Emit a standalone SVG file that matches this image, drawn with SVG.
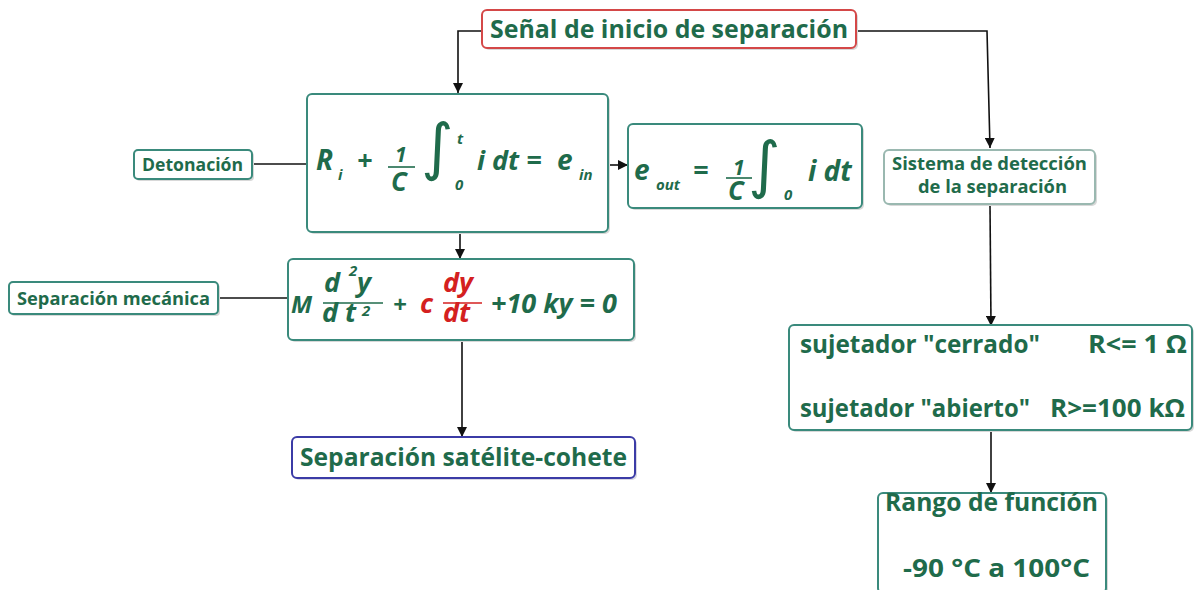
<svg xmlns="http://www.w3.org/2000/svg" width="1195" height="590" viewBox="0 0 1195 590">
<defs>
<style>
.box{fill:#fff;stroke:#3a8a7c;stroke-width:2}
.sh{fill:#d8d8d8}
.t{font-family:"Open Sans","DejaVu Sans",sans-serif;font-weight:700;fill:#1f6b4b}
.f{font-family:"Open Sans","DejaVu Sans",sans-serif;font-weight:700;font-style:italic;fill:#1f6b4b}
.red{fill:#d42020}
.int{font-family:"DejaVu Sans",sans-serif;font-weight:400;fill:#1f6b4b}
.c{fill:none;stroke:#111;stroke-width:1.6}
.fl{stroke:#1f6b4b;stroke-width:1.6}
.fr{stroke:#d42020;stroke-width:1.6}
</style>
<marker id="ah" viewBox="0 0 10 10" refX="10" refY="5" markerWidth="10" markerHeight="10" markerUnits="userSpaceOnUse" orient="auto">
<path d="M0,0 L10,5 L0,10 z" fill="#111"/>
</marker>
</defs>
<rect width="1195" height="590" fill="#fff"/>

<g id="connectors">
<polyline class="c" points="482,31 458,31 458,93" marker-end="url(#ah)"/>
<polyline class="c" points="857,31 987,31 990,148" marker-end="url(#ah)"/>
<line class="c" x1="608" y1="165" x2="628" y2="165" marker-end="url(#ah)"/>
<line class="c" x1="460" y1="233" x2="460" y2="259" marker-end="url(#ah)"/>
<line class="c" x1="252" y1="164" x2="307" y2="164"/>
<line class="c" x1="220" y1="298" x2="288" y2="298"/>
<line class="c" x1="462" y1="342" x2="462" y2="437" marker-end="url(#ah)"/>
<line class="c" x1="990" y1="205" x2="991" y2="326" marker-end="url(#ah)"/>
<line class="c" x1="991" y1="431" x2="991" y2="493" marker-end="url(#ah)"/>
</g>

<g id="senal">
<rect class="sh" x="484" y="12" width="374" height="38" rx="5"/>
<rect x="482" y="10" width="374" height="38" rx="5" fill="#fff" stroke="#d44848" stroke-width="2"/>
<text class="t" x="490" y="38" font-size="25" textLength="358" lengthAdjust="spacingAndGlyphs">Señal de inicio de separación</text>
</g>

<g id="circuito">
<rect class="sh" x="309" y="96" width="301" height="138" rx="5"/>
<rect class="box" x="307" y="94" width="301" height="138" rx="5"/>
<line class="fl" x1="388" y1="167" x2="415" y2="167"/>
<text class="f"><tspan x="316" y="170" font-size="28">R</tspan><tspan x="338" y="180" font-size="15">i</tspan><tspan x="357" y="170" font-size="27">+</tspan><tspan x="395" y="162" font-size="21">1</tspan><tspan x="391" y="191" font-size="26">C</tspan><tspan class="int" x="421" y="168" font-size="62" font-style="italic">∫</tspan><tspan x="457" y="144" font-size="15">t</tspan><tspan x="455" y="190" font-size="15">0</tspan><tspan x="477" y="170" font-size="27">i dt =</tspan><tspan x="557" y="170" font-size="28">e</tspan><tspan x="579" y="180" font-size="15">in</tspan></text>
</g>

<g id="eout">
<rect class="sh" x="630" y="126" width="234" height="84" rx="5"/>
<rect class="box" x="628" y="124" width="234" height="84" rx="5"/>
<line class="fl" x1="726" y1="178" x2="752" y2="178"/>
<text class="f"><tspan x="634" y="180" font-size="28">e</tspan><tspan x="656" y="190" font-size="15">out</tspan><tspan x="693" y="180" font-size="27">=</tspan><tspan x="733" y="175" font-size="21">1</tspan><tspan x="728" y="200" font-size="26">C</tspan><tspan class="int" x="748" y="186" font-size="62" font-style="italic">∫</tspan><tspan x="784" y="200" font-size="15">0</tspan><tspan x="808" y="181" font-size="28">i dt</tspan></text>
</g>

<g id="detonacion">
<rect class="sh" x="136" y="152" width="118" height="29" rx="4"/>
<rect class="box" x="134" y="150" width="118" height="29" rx="4"/>
<text class="t" x="142" y="171" font-size="18" textLength="101" lengthAdjust="spacingAndGlyphs">Detonación</text>
</g>

<g id="mecanica">
<rect class="sh" x="11" y="284" width="209" height="32" rx="4"/>
<rect class="box" x="9" y="282" width="209" height="32" rx="4"/>
<text class="t" x="17" y="305" font-size="18" textLength="193" lengthAdjust="spacingAndGlyphs">Separación mecánica</text>
</g>

<g id="ecuacion">
<rect class="sh" x="290" y="261" width="346" height="81" rx="5"/>
<rect class="box" x="288" y="259" width="346" height="81" rx="5"/>
<line class="fl" x1="323" y1="303" x2="383" y2="303"/>
<line class="fr" x1="443" y1="303" x2="482" y2="303"/>
<text class="f"><tspan x="291" y="313" font-size="24">M</tspan><tspan x="324" y="292" font-size="27">d</tspan><tspan x="349" y="276" font-size="15">2</tspan><tspan x="357" y="292" font-size="27">y</tspan><tspan x="322" y="322" font-size="27">d t</tspan><tspan x="362" y="316" font-size="15">2</tspan><tspan x="393" y="313" font-size="24">+</tspan><tspan class="red" x="420" y="313" font-size="27">c</tspan><tspan class="red" x="443" y="292" font-size="27">dy</tspan><tspan class="red" x="443" y="322" font-size="27">dt</tspan><tspan x="491" y="313" font-size="27">+10 ky = 0</tspan></text>
</g>

<g id="satelite">
<rect x="294" y="439" width="343" height="41" rx="5" fill="#d8d8e4"/>
<rect x="292" y="437" width="343" height="41" rx="5" fill="#fff" stroke="#3b3ba6" stroke-width="2"/>
<text class="t" x="300" y="466" font-size="25" textLength="327" lengthAdjust="spacingAndGlyphs">Separación satélite-cohete</text>
</g>

<g id="sistema">
<rect class="sh" x="886" y="152" width="211" height="54" rx="5"/>
<rect x="884" y="150" width="211" height="54" rx="5" fill="#fff" stroke="#9ab8b0" stroke-width="2"/>
<text class="t" x="892" y="170" font-size="18" textLength="195" lengthAdjust="spacingAndGlyphs">Sistema de detección</text>
<text class="t" x="918" y="193" font-size="18" textLength="149" lengthAdjust="spacingAndGlyphs">de la separación</text>
</g>

<g id="sujetador">
<rect class="sh" x="791" y="327" width="403" height="105" rx="5"/>
<rect class="box" x="789" y="325" width="403" height="105" rx="5"/>
<text class="t" x="800" y="353" font-size="25" textLength="240" lengthAdjust="spacingAndGlyphs">sujetador "cerrado"</text>
<text class="t" x="1088" y="353" font-size="25" textLength="99" lengthAdjust="spacingAndGlyphs">R&lt;= 1 Ω</text>
<text class="t" x="800" y="417" font-size="25" textLength="230" lengthAdjust="spacingAndGlyphs">sujetador "abierto"</text>
<text class="t" x="1050" y="417" font-size="25" textLength="135" lengthAdjust="spacingAndGlyphs">R&gt;=100 kΩ</text>
</g>

<g id="rango">
<rect class="sh" x="880" y="495" width="228" height="100" rx="5"/>
<rect class="box" x="878" y="493" width="228" height="100" rx="5"/>
<text class="t" x="885" y="511" font-size="25" textLength="213" lengthAdjust="spacingAndGlyphs">Rango de función</text>
<text class="t" x="903" y="577" font-size="25" textLength="187" lengthAdjust="spacingAndGlyphs">-90 °C a 100°C</text>
</g>
</svg>
